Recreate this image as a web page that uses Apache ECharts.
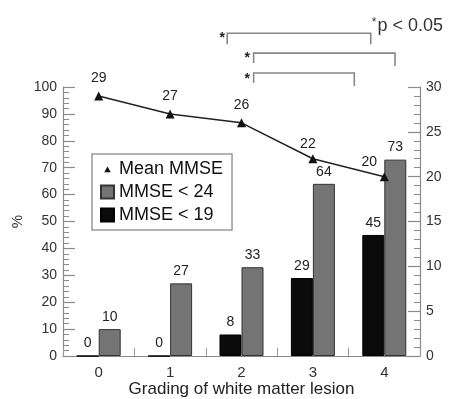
<!DOCTYPE html>
<html><head><meta charset="utf-8">
<script src="https://cdn.jsdelivr.net/npm/echarts@6/dist/echarts.min.js"></script>
<style>html,body{margin:0;padding:0;background:#fff}#c{width:452px;height:399px}</style>
</head><body><div id="c"></div>
<script>
// ---- data ----
const categories = ['0', '1', '2', '3', '4'];
const mmseBelow19 = [0, 0, 8, 29, 45];     // % (left axis)
const mmseBelow24 = [10, 27, 33, 64, 73];  // % (left axis)
const meanMMSE = [29, 27, 26, 22, 20];     // score (right axis)
const seriesNames = ['Mean MMSE', 'MMSE < 24', 'MMSE < 19'];
const xAxisTitle = 'Grading of white matter lesion';
const yAxisTitle = '%';
const sigNote = 'p < 0.05';
// significance brackets: category positions (fractional) and left-axis values
const bracketFrom = [1.80, 2.17, 2.17];
const bracketTo = [3.81, 4.15, 3.58];
const bracketTop = [120, 112.6, 105.2];
const bracketLeftEnd = [115.9, 108.9, 101.5];
const bracketRightEnd = [115.9, 107.8, 100.4];
const starCat = [1.73, 2.08, 2.08];
const starVal = [118.1, 110.7, 103.0];

const FONT = 'Liberation Sans, Arial, sans-serif';
const AX = '#8a8a8a';
const chart = echarts.init(document.getElementById('c'));

const lineLabelOffsets = [[0, 0], [0, 0], [0, 0], [-5, 3], [-15, 3]];

const axisCommon = {
  axisLine: { show: true, lineStyle: { color: AX, width: 1.2 } },
  axisTick: { show: true, inside: true, length: 12, lineStyle: { color: AX, width: 1.2 } },
  minorTick: { show: true, splitNumber: 5, length: 6, lineStyle: { color: AX, width: 1 } },
  splitLine: { show: false },
  minorSplitLine: { show: false },
  axisLabel: { fontSize: 14, color: '#333', fontFamily: FONT, margin: 6 }
};

chart.setOption({
  animation: false,
  backgroundColor: '#fff',
  textStyle: { fontFamily: FONT },
  grid: { left: 63, right: 32, top: 87, bottom: 43, outerBoundsMode: 'none', containLabel: false },
  title: {
    text: '{s|*}{t|' + sigNote + '}',
    right: 4, top: 12,
    textStyle: { fontWeight: 'normal', rich: {
      s: { fontSize: 12, color: '#333', fontFamily: FONT, fontWeight: 'normal', verticalAlign: 'top', padding: [0, 1, 7, 0] },
      t: { fontSize: 18, color: '#333', fontFamily: FONT, fontWeight: 'normal' }
    } }
  },
  legend: {
    orient: 'vertical', left: 92, top: 154,
    padding: [6, 9, 6, 8], itemGap: 5, itemWidth: 13, itemHeight: 13,
    borderColor: '#999', borderWidth: 1.5,
    textStyle: { fontSize: 18, color: '#111', fontFamily: FONT },
    data: [
      { name: seriesNames[0], icon: 'path://M0 0 M20 20 M5 15 L15 15 L10 6 Z' },
      { name: seriesNames[1], icon: 'rect' },
      { name: seriesNames[2], icon: 'rect' }
    ]
  },
  xAxis: {
    type: 'category', data: categories, boundaryGap: true,
    axisLine: { lineStyle: { color: AX, width: 1.2 } },
    axisTick: { show: true, inside: true, length: 8, interval: 0, lineStyle: { color: '#999' } },
    axisLabel: { fontSize: 15, color: '#333', fontFamily: FONT, margin: 9 },
    name: xAxisTitle, nameLocation: 'middle', nameGap: 25, nameMoveOverlap: false,
    nameTextStyle: { fontSize: 17, color: '#222', fontFamily: FONT }
  },
  yAxis: [
    Object.assign({
      type: 'value', min: 0, max: 100, interval: 10, position: 'left',
      name: yAxisTitle, nameLocation: 'middle', nameGap: 38, nameRotate: 90, nameMoveOverlap: false,
      nameTextStyle: { fontSize: 15, color: '#333', fontFamily: FONT }
    }, axisCommon),
    Object.assign({
      type: 'value', min: 0, max: 30, interval: 5, position: 'right'
    }, axisCommon)
  ],
  series: [
    {
      name: seriesNames[2], type: 'bar', data: mmseBelow19, barWidth: 22, barGap: '0%',
      itemStyle: { color: '#0b0b0b', borderColor: '#000', borderWidth: 1 },
      label: { show: true, position: 'top', distance: 5, fontSize: 14, color: '#222' }
    },
    {
      name: seriesNames[1], type: 'bar', data: mmseBelow24, barWidth: 22, barGap: '0%',
      itemStyle: { color: '#747474', borderColor: '#333', borderWidth: 1 },
      label: { show: true, position: 'top', distance: 5, fontSize: 14, color: '#222' }
    },
    {
      name: seriesNames[0], type: 'line', yAxisIndex: 1, z: 5,
      data: meanMMSE.map((v, i) => ({ value: v, label: { offset: lineLabelOffsets[i] } })),
      symbol: 'triangle', symbolSize: 9,
      itemStyle: { color: '#111' },
      lineStyle: { color: '#222', width: 1.5 },
      label: { show: true, position: 'top', distance: 6, fontSize: 14, color: '#222' }
    }
  ]
});

// significance brackets, placed through the axes
const px0 = chart.convertToPixel({ xAxisIndex: 0 }, categories[0]);
const px1 = chart.convertToPixel({ xAxisIndex: 0 }, categories[1]);
const step = px1 - px0;
const cx = c => px0 + step * c;
const cy = v => chart.convertToPixel({ yAxisIndex: 0 }, v);
const graphics = [];
for (let i = 0; i < bracketFrom.length; i++) {
  graphics.push({
    type: 'polyline',
    shape: { points: [
      [cx(bracketFrom[i]), cy(bracketLeftEnd[i])],
      [cx(bracketFrom[i]), cy(bracketTop[i])],
      [cx(bracketTo[i]), cy(bracketTop[i])],
      [cx(bracketTo[i]), cy(bracketRightEnd[i])]
    ] },
    style: { stroke: '#888', lineWidth: 1.6, fill: null }
  });
  graphics.push({
    type: 'text',
    x: cx(starCat[i]), y: cy(starVal[i]),
    style: { text: '*', fontSize: 14, fontWeight: 'bold', fill: '#222', align: 'center', verticalAlign: 'middle', fontFamily: FONT }
  });
}
chart.setOption({ graphic: graphics });
</script>
</body></html>
